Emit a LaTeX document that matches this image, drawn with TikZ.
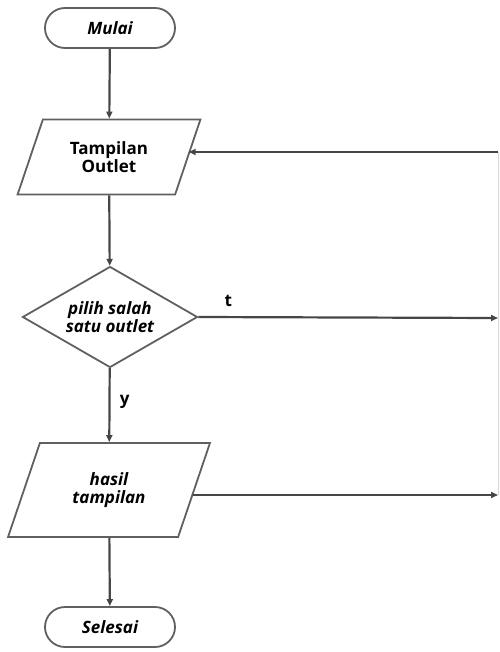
\documentclass[tikz,border=0pt]{standalone}
\usepackage{fontspec}
\setmainfont{Open Sans}
\usetikzlibrary{positioning, arrows.meta, shapes.geometric}

\begin{document}
\begin{tikzpicture}[
  x=1pt, y=-1pt,
  txt/.style={font=\fontsize{17}{17.5}\selectfont\bfseries, align=center},
  term/.style={txt, draw=gray!75!black, line width=1.8pt, rounded corners=20pt, minimum width=130pt, minimum height=40pt},
  io/.style={txt, draw=gray!75!black, line width=1.8pt, trapezium, trapezium left angle=64, trapezium right angle=116, trapezium stretches=true, inner sep=0pt},
  decision/.style={txt, draw=gray!75!black, line width=1.8pt, diamond, aspect=1.73, minimum width=175pt, minimum height=101pt, inner sep=0pt},
  arrow/.style={-{Triangle[length=7pt, width=6pt]}, line width=2.2pt, draw=gray!55!black}
]
  \useasboundingbox (0,0) rectangle (499,652);

  % Start and first output
  \node[term] (mulai) at (110, 28) {\itshape Mulai};
  \node[io, minimum width=183pt, minimum height=75pt] (outlet) at (109, 157) {Tampilan\\Outlet};

  % Choice
  \node[decision] (pilih) at (110, 317) {\itshape pilih salah\\\itshape satu outlet};

  % Result and end
  \node[io, minimum width=202pt, minimum height=94pt] (hasil) at (109, 490) {\itshape hasil\\\itshape tampilan};
  \node[term] (selesai) at (110, 627) {\itshape Selesai};

  % Right return line (cut at edge)
  \coordinate (rtop) at (498, 152);
  \coordinate (rmid) at (498, 318);
  \coordinate (rbot) at (498, 495);
  \draw[gray!30, line width=1pt] (rtop) -- (rbot);

  % Main flow
  \draw[arrow] (mulai) -- (outlet);
  \draw[arrow] (outlet) -- (pilih);
  \draw[arrow] (pilih) -- node[txt, right=6pt, pos=0.45] (ylabel) {y} (hasil);
  \draw[arrow] (hasil) -- (selesai);

  % Side branches
  \draw[arrow] (pilih.east) -- node[txt, above=6pt, pos=0.1] (tlabel) {t} (rmid);
  \draw[arrow] (hasil.east |- rbot) ++(-2,0) -- (rbot);
  \draw[arrow] (rtop) -- (outlet.east |- rtop);
\end{tikzpicture}
\end{document}
